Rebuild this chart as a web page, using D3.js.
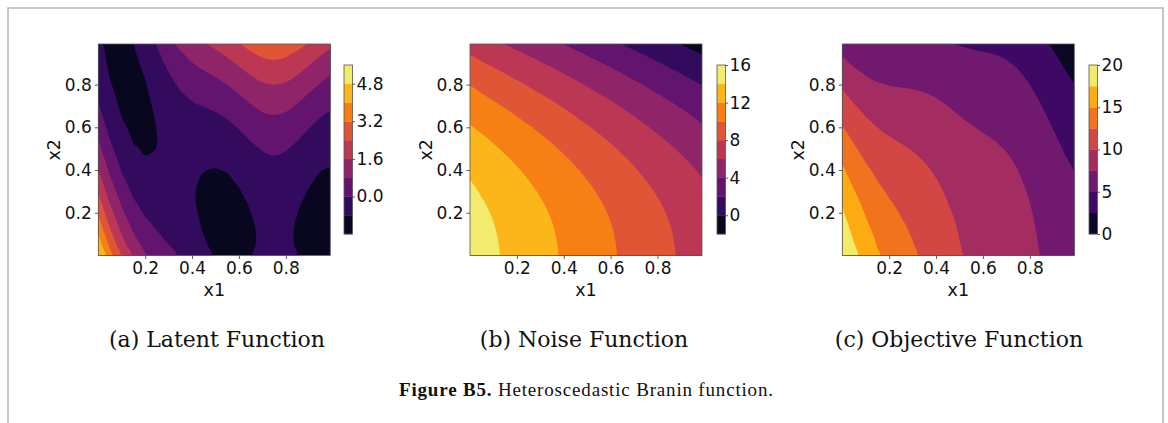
<!DOCTYPE html>
<html>
<head>
<meta charset="utf-8">
<script src="https://cdn.jsdelivr.net/npm/d3@7"></script>
<style>
body { margin: 0; background: #fff; }
svg text { font-family: "DejaVu Sans", sans-serif; fill: #111; }
</style>
</head>
<body>
<script>
// sample positions every 0.05 (same for x1 and x2)
var gridAxis = [0, 0.05, 0.1, 0.15, 0.2, 0.25, 0.3, 0.35, 0.4, 0.45, 0.5,
    0.55, 0.6, 0.65, 0.7, 0.75, 0.8, 0.85, 0.9, 0.95, 1.0];

// rows go from x2 = 0 (bottom) to x2 = 1 (top), columns x1 = 0 .. 1
var latent = [
    [4.88, 3.44, 2.29, 1.45, 0.87, 0.49, 0.20, -0.08, -0.37, -0.64, -0.86, -0.95, -0.93, -0.82, -0.71, -0.65, -0.70, -0.804, -0.91, -0.94, -0.84],
    [4.39, 3.02, 1.93, 1.13, 0.60, 0.26, 0.01, -0.23, -0.49, -0.74, -0.93, -1.01, -0.97, -0.85, -0.73, -0.68, -0.72, -0.83, -0.95, -1.00, -0.92],
    [3.93, 2.61, 1.58, 0.84, 0.35, 0.06, -0.15, -0.36, -0.59, -0.81, -0.98, -1.04, -0.98, -0.86, -0.73, -0.67, -0.72, -0.84, -0.97, -1.03, -0.97],
    [3.48, 2.23, 1.25, 0.56, 0.13, -0.12, -0.30, -0.47, -0.66, -0.86, -1.00, -1.05, -0.98, -0.84, -0.71, -0.65, -0.70, -0.83, -0.97, -1.04, -1.01],
    [3.06, 1.87, 0.95, 0.31, -0.08, -0.29, -0.42, -0.55, -0.72, -0.89, -1.01, -1.03, -0.95, -0.804, -0.67, -0.61, -0.66, -0.796, -0.95, -1.04, -1.02],
    [2.67, 1.53, 0.67, 0.08, -0.26, -0.42, -0.52, -0.62, -0.75, -0.90, -0.99, -1.00, -0.90, -0.75, -0.60, -0.54, -0.60, -0.74, -0.90, -1.01, -1.01],
    [2.29, 1.22, 0.41, -0.13, -0.42, -0.54, -0.60, -0.66, -0.76, -0.88, -0.96, -0.94, -0.83, -0.67, -0.52, -0.46, -0.51, -0.66, -0.83, -0.95, -0.97],
    [1.93, 0.92, 0.17, -0.32, -0.56, -0.64, -0.65, -0.68, -0.75, -0.84, -0.90, -0.87, -0.74, -0.56, -0.41, -0.35, -0.41, -0.56, -0.75, -0.88, -0.92],
    [1.60, 0.65, -0.05, -0.48, -0.68, -0.71, -0.69, -0.68, -0.72, -0.79, -0.82, -0.77, -0.63, -0.44, -0.28, -0.22, -0.28, -0.44, -0.64, -0.79, -0.84],
    [1.29, 0.40, -0.25, -0.63, -0.77, -0.76, -0.70, -0.66, -0.67, -0.71, -0.71, -0.65, -0.49, -0.30, -0.13, -0.06, -0.13, -0.30, -0.50, -0.67, -0.75],
    [1.00, 0.17, -0.42, -0.75, -0.85, -0.795, -0.69, -0.61, -0.59, -0.60, -0.59, -0.50, -0.34, -0.13, 0.04, 0.11, 0.04, -0.13, -0.35, -0.53, -0.63],
    [0.73, -0.04, -0.57, -0.85, -0.90, -0.804, -0.66, -0.55, -0.50, -0.48, -0.44, -0.34, -0.16, 0.06, 0.24, 0.31, 0.24, 0.05, -0.17, -0.37, -0.49],
    [0.48, -0.23, -0.70, -0.93, -0.93, -0.79, -0.61, -0.46, -0.38, -0.34, -0.28, -0.15, 0.04, 0.27, 0.45, 0.52, 0.45, 0.26, 0.02, -0.19, -0.33],
    [0.25, -0.39, -0.81, -0.98, -0.94, -0.76, -0.54, -0.35, -0.24, -0.17, -0.09, 0.05, 0.26, 0.50, 0.69, 0.76, 0.69, 0.49, 0.24, 0.01, -0.14],
    [0.05, -0.54, -0.90, -1.02, -0.93, -0.70, -0.44, -0.22, -0.08, 0.02, 0.12, 0.28, 0.51, 0.75, 0.95, 1.02, 0.95, 0.74, 0.48, 0.24, 0.06],
    [-0.13, -0.66, -0.97, -1.03, -0.89, -0.62, -0.32, -0.07, 0.10, 0.23, 0.35, 0.53, 0.77, 1.03, 1.23, 1.31, 1.23, 1.01, 0.74, 0.49, 0.29],
    [-0.29, -0.76, -1.01, -1.03, -0.84, -0.52, -0.19, 0.10, 0.31, 0.46, 0.61, 0.81, 1.06, 1.33, 1.53, 1.61, 1.53, 1.31, 1.03, 0.75, 0.54],
    [-0.43, -0.84, -1.03, -1.00, -0.76, -0.40, -0.03, 0.30, 0.54, 0.71, 0.88, 1.10, 1.37, 1.64, 1.86, 1.94, 1.85, 1.63, 1.33, 1.04, 0.81],
    [-0.55, -0.90, -1.03, -0.94, -0.66, -0.26, 0.16, 0.51, 0.78, 0.99, 1.18, 1.42, 1.70, 1.98, 2.20, 2.28, 2.19, 1.96, 1.66, 1.36, 1.10],
    [-0.64, -0.93, -1.01, -0.87, -0.54, -0.10, 0.36, 0.75, 1.05, 1.28, 1.50, 1.75, 2.05, 2.35, 2.57, 2.65, 2.56, 2.32, 2.01, 1.69, 1.42],
    [-0.72, -0.94, -0.97, -0.78, -0.40, 0.09, 0.59, 1.01, 1.34, 1.60, 1.84, 2.11, 2.42, 2.73, 2.96, 3.04, 2.95, 2.70, 2.38, 2.04, 1.75]
];

var noise = [
    [15.00, 14.60, 14.20, 13.80, 13.40, 13.00, 12.60, 12.20, 11.80, 11.40, 11.00, 10.60, 10.20, 9.80, 9.40, 9.00, 8.60, 8.20, 7.80, 7.40, 7.00],
    [14.98, 14.58, 14.18, 13.78, 13.38, 12.98, 12.58, 12.18, 11.78, 11.38, 10.98, 10.58, 10.18, 9.78, 9.38, 8.98, 8.58, 8.18, 7.78, 7.38, 6.98],
    [14.92, 14.52, 14.12, 13.72, 13.32, 12.92, 12.52, 12.12, 11.72, 11.32, 10.92, 10.52, 10.12, 9.72, 9.32, 8.92, 8.52, 8.12, 7.72, 7.32, 6.92],
    [14.82, 14.42, 14.02, 13.62, 13.22, 12.82, 12.42, 12.02, 11.62, 11.22, 10.82, 10.42, 10.02, 9.62, 9.22, 8.82, 8.42, 8.02, 7.62, 7.22, 6.82],
    [14.68, 14.28, 13.88, 13.48, 13.08, 12.68, 12.28, 11.88, 11.48, 11.08, 10.68, 10.28, 9.88, 9.48, 9.08, 8.68, 8.28, 7.88, 7.48, 7.08, 6.68],
    [14.50, 14.10, 13.70, 13.30, 12.90, 12.50, 12.10, 11.70, 11.30, 10.90, 10.50, 10.10, 9.70, 9.30, 8.90, 8.50, 8.10, 7.70, 7.30, 6.90, 6.50],
    [14.28, 13.88, 13.48, 13.08, 12.68, 12.28, 11.88, 11.48, 11.08, 10.68, 10.28, 9.88, 9.48, 9.08, 8.68, 8.28, 7.88, 7.48, 7.08, 6.68, 6.28],
    [14.02, 13.62, 13.22, 12.82, 12.42, 12.02, 11.62, 11.22, 10.82, 10.42, 10.02, 9.62, 9.22, 8.82, 8.42, 8.02, 7.62, 7.22, 6.82, 6.42, 6.02],
    [13.72, 13.32, 12.92, 12.52, 12.12, 11.72, 11.32, 10.92, 10.52, 10.12, 9.72, 9.32, 8.92, 8.52, 8.12, 7.72, 7.32, 6.92, 6.52, 6.12, 5.72],
    [13.38, 12.98, 12.58, 12.18, 11.78, 11.38, 10.98, 10.58, 10.18, 9.78, 9.38, 8.98, 8.58, 8.18, 7.78, 7.38, 6.98, 6.58, 6.18, 5.78, 5.38],
    [13.00, 12.60, 12.20, 11.80, 11.40, 11.00, 10.60, 10.20, 9.80, 9.40, 9.00, 8.60, 8.20, 7.80, 7.40, 7.00, 6.60, 6.20, 5.80, 5.40, 5.00],
    [12.58, 12.18, 11.78, 11.38, 10.98, 10.58, 10.18, 9.78, 9.38, 8.98, 8.58, 8.18, 7.78, 7.38, 6.98, 6.58, 6.18, 5.78, 5.38, 4.98, 4.58],
    [12.12, 11.72, 11.32, 10.92, 10.52, 10.12, 9.72, 9.32, 8.92, 8.52, 8.12, 7.72, 7.32, 6.92, 6.52, 6.12, 5.72, 5.32, 4.92, 4.52, 4.12],
    [11.62, 11.22, 10.82, 10.42, 10.02, 9.62, 9.22, 8.82, 8.42, 8.02, 7.62, 7.22, 6.82, 6.42, 6.02, 5.62, 5.22, 4.82, 4.42, 4.02, 3.62],
    [11.08, 10.68, 10.28, 9.88, 9.48, 9.08, 8.68, 8.28, 7.88, 7.48, 7.08, 6.68, 6.28, 5.88, 5.48, 5.08, 4.68, 4.28, 3.88, 3.48, 3.08],
    [10.50, 10.10, 9.70, 9.30, 8.90, 8.50, 8.10, 7.70, 7.30, 6.90, 6.50, 6.10, 5.70, 5.30, 4.90, 4.50, 4.10, 3.70, 3.30, 2.90, 2.50],
    [9.88, 9.48, 9.08, 8.68, 8.28, 7.88, 7.48, 7.08, 6.68, 6.28, 5.88, 5.48, 5.08, 4.68, 4.28, 3.88, 3.48, 3.08, 2.68, 2.28, 1.88],
    [9.22, 8.82, 8.42, 8.02, 7.62, 7.22, 6.82, 6.42, 6.02, 5.62, 5.22, 4.82, 4.42, 4.02, 3.62, 3.22, 2.82, 2.42, 2.02, 1.62, 1.22],
    [8.52, 8.12, 7.72, 7.32, 6.92, 6.52, 6.12, 5.72, 5.32, 4.92, 4.52, 4.12, 3.72, 3.32, 2.92, 2.52, 2.12, 1.72, 1.32, 0.92, 0.52],
    [7.78, 7.38, 6.98, 6.58, 6.18, 5.78, 5.38, 4.98, 4.58, 4.18, 3.78, 3.38, 2.98, 2.58, 2.18, 1.78, 1.38, 0.98, 0.58, 0.18, -0.22],
    [7.00, 6.60, 6.20, 5.80, 5.40, 5.00, 4.60, 4.20, 3.80, 3.40, 3.00, 2.60, 2.20, 1.80, 1.40, 1.00, 0.60, 0.20, -0.20, -0.60, -1.00]
];

var objective = [
    [19.88, 18.04, 16.49, 15.25, 14.27, 13.49, 12.80, 12.12, 11.43, 10.76, 10.14, 9.65, 9.27, 8.98, 8.69, 8.35, 7.90, 7.40, 6.89, 6.46, 6.16],
    [19.37, 17.60, 16.11, 14.91, 13.98, 13.24, 12.59, 11.95, 11.29, 10.64, 10.05, 9.57, 9.21, 8.93, 8.65, 8.30, 7.86, 7.35, 6.83, 6.38, 6.06],
    [18.85, 17.13, 15.70, 14.56, 13.67, 12.98, 12.37, 11.76, 11.13, 10.51, 9.94, 9.48, 9.14, 8.86, 8.59, 8.25, 7.80, 7.28, 6.75, 6.29, 5.95],
    [18.30, 16.65, 15.27, 14.18, 13.35, 12.70, 12.12, 11.55, 10.96, 10.36, 9.82, 9.37, 9.04, 8.78, 8.51, 8.17, 7.72, 7.19, 6.65, 6.18, 5.81],
    [17.74, 16.15, 14.83, 13.79, 13.00, 12.39, 11.86, 11.33, 10.76, 10.19, 9.67, 9.25, 8.93, 8.68, 8.41, 8.07, 7.62, 7.08, 6.53, 6.04, 5.66],
    [17.17, 15.63, 14.37, 13.38, 12.64, 12.08, 11.58, 11.08, 10.55, 10.00, 9.51, 9.10, 8.80, 8.55, 8.30, 7.96, 7.50, 6.96, 6.40, 5.89, 5.49],
    [16.57, 15.10, 13.89, 12.95, 12.26, 11.74, 11.28, 10.82, 10.32, 9.80, 9.32, 8.94, 8.65, 8.41, 8.16, 7.82, 7.37, 6.82, 6.25, 5.73, 5.31],
    [15.95, 14.54, 13.39, 12.50, 11.86, 11.38, 10.97, 10.54, 10.07, 9.58, 9.12, 8.75, 8.48, 8.26, 8.01, 7.67, 7.21, 6.66, 6.07, 5.54, 5.10],
    [15.32, 13.97, 12.87, 12.04, 11.44, 11.01, 10.63, 10.24, 9.80, 9.33, 8.90, 8.55, 8.29, 8.08, 7.84, 7.50, 7.04, 6.48, 5.88, 5.33, 4.88],
    [14.67, 13.38, 12.33, 11.55, 11.01, 10.62, 10.28, 9.92, 9.51, 9.07, 8.67, 8.33, 8.09, 7.88, 7.65, 7.32, 6.85, 6.28, 5.68, 5.11, 4.63],
    [14.00, 12.77, 11.78, 11.05, 10.55, 10.20, 9.91, 9.59, 9.21, 8.80, 8.41, 8.10, 7.86, 7.67, 7.44, 7.11, 6.64, 6.07, 5.45, 4.87, 4.37],
    [13.31, 12.14, 11.21, 10.53, 10.08, 9.78, 9.52, 9.23, 8.88, 8.50, 8.14, 7.84, 7.62, 7.44, 7.22, 6.89, 6.42, 5.83, 5.21, 4.61, 4.09],
    [12.60, 11.49, 10.62, 9.99, 9.59, 9.33, 9.11, 8.86, 8.54, 8.18, 7.84, 7.57, 7.36, 7.19, 6.97, 6.64, 6.17, 5.58, 4.94, 4.33, 3.79],
    [11.87, 10.83, 10.01, 9.44, 9.08, 8.86, 8.68, 8.47, 8.18, 7.85, 7.53, 7.27, 7.08, 6.92, 6.71, 6.38, 5.91, 5.31, 4.66, 4.03, 3.48],
    [11.13, 10.14, 9.38, 8.86, 8.55, 8.38, 8.24, 8.06, 7.80, 7.50, 7.20, 6.96, 6.79, 6.63, 6.43, 6.10, 5.63, 5.02, 4.36, 3.72, 3.14],
    [10.37, 9.44, 8.73, 8.27, 8.01, 7.88, 7.78, 7.63, 7.40, 7.13, 6.85, 6.63, 6.47, 6.33, 6.13, 5.81, 5.33, 4.71, 4.04, 3.39, 2.79],
    [9.59, 8.72, 8.07, 7.65, 7.44, 7.36, 7.29, 7.18, 6.99, 6.74, 6.49, 6.29, 6.14, 6.01, 5.81, 5.49, 5.01, 4.39, 3.71, 3.03, 2.42],
    [8.79, 7.98, 7.39, 7.02, 6.86, 6.82, 6.79, 6.72, 6.56, 6.33, 6.10, 5.92, 5.79, 5.66, 5.48, 5.16, 4.67, 4.05, 3.35, 2.66, 2.03],
    [7.97, 7.22, 6.69, 6.38, 6.26, 6.26, 6.28, 6.23, 6.10, 5.91, 5.70, 5.54, 5.42, 5.30, 5.12, 4.80, 4.31, 3.68, 2.98, 2.28, 1.62],
    [7.14, 6.45, 5.97, 5.71, 5.64, 5.68, 5.74, 5.73, 5.63, 5.46, 5.28, 5.13, 5.03, 4.93, 4.75, 4.43, 3.94, 3.30, 2.59, 1.87, 1.20],
    [6.28, 5.66, 5.23, 5.02, 5.00, 5.09, 5.19, 5.21, 5.14, 5.00, 4.84, 4.71, 4.62, 4.53, 4.36, 4.04, 3.55, 2.90, 2.18, 1.44, 0.75]
];

var latentLevels = [-1.6, -0.8, 0.0, 0.8, 1.6, 2.4, 3.2, 4.0, 4.8, 5.6];
var noiseLevels = [-2, 0, 2, 4, 6, 8, 10, 12, 14, 16];
var objectiveLevels = [0, 2.5, 5, 7.5, 10, 12.5, 15, 17.5, 20];

var latentTicks = [0, 1.6, 3.2, 4.8];
var noiseTicks = [0, 4, 8, 12, 16];
var objectiveTicks = [0, 5, 10, 15, 20];

var axisTicks = [0.2, 0.4, 0.6, 0.8];
var captions = ["(a) Latent Function", "(b) Noise Function", "(c) Objective Function"];
var figureLabel = "Figure B5.";
var figureText = " Heteroscedastic Branin function.";

var width = 1168, height = 423;
var plotTop = 44, plotBottom = 255.5, plotW = 232;
var cbTop = 65, cbBottom = 234, cbW = 8.5;

var svg = d3.select("body")
    .append("svg")
    .attr("width", width)
    .attr("height", height);

// page frame
svg.append("path")
    .attr("d", "M8," + height + "V8H1163V" + height)
    .attr("fill", "none")
    .attr("stroke", "#b8b8b8")
    .attr("stroke-width", 1.6);

var panels = [
    { grid: latent, levels: latentLevels, ticks: latentTicks, fmt: d3.format(".1f"), left: 98.3, cbX: 344, capX: 217 },
    { grid: noise, levels: noiseLevels, ticks: noiseTicks, fmt: d3.format("d"), left: 470, cbX: 717, capX: 584 },
    { grid: objective, levels: objectiveLevels, ticks: objectiveTicks, fmt: d3.format("d"), left: 842.3, cbX: 1089, capX: 959 }
];

var smoothLine = d3.line().curve(d3.curveCatmullRomClosed.alpha(0.5));

panels.forEach(function (p, idx) {
    var g = svg.append("g");

    var xscale = d3.scaleLinear().domain([0, 0.99]).range([p.left, p.left + plotW]);
    var yscale = d3.scaleLinear().domain([0, 0.99]).range([plotBottom, plotTop]);

    var nb = p.levels.length - 1;
    var bandColor = function (k) { return d3.interpolateInferno((k + 0.5) / nb); };

    var clipId = "clip" + idx;
    g.append("clipPath").attr("id", clipId)
        .append("rect")
        .attr("x", p.left).attr("y", plotTop)
        .attr("width", plotW).attr("height", plotBottom - plotTop);

    var n = gridAxis.length;
    var values = [];
    p.grid.forEach(function (row) { row.forEach(function (v) { values.push(v); }); });

    var contours = d3.contours()
        .size([n, n])
        .thresholds(p.levels.slice(1, -1))(values);

    // grid coords -> pixels (sample i sits at i + 0.5)
    var step = gridAxis[1] - gridAxis[0];
    var toPx = function (pt) {
        return [xscale(gridAxis[0] + (pt[0] - 0.5) * step), yscale(gridAxis[0] + (pt[1] - 0.5) * step)];
    };
    var ringPath = function (geom) {
        var s = "";
        geom.coordinates.forEach(function (poly) {
            poly.forEach(function (ring) {
                var pts = ring.slice(0, -1).map(toPx);
                if (pts.length > 2) s += smoothLine(pts);
            });
        });
        return s;
    };

    var fills = g.append("g").attr("clip-path", "url(#" + clipId + ")");
    fills.append("rect")
        .attr("x", p.left).attr("y", plotTop)
        .attr("width", plotW).attr("height", plotBottom - plotTop)
        .attr("fill", bandColor(0));
    fills.selectAll("path.band")
        .data(contours)
        .enter().append("path")
        .attr("class", "band")
        .attr("d", ringPath)
        .attr("fill-rule", "evenodd")
        .attr("fill", function (d, i) { return bandColor(i + 1); });

    // frame
    g.append("rect")
        .attr("x", p.left).attr("y", plotTop)
        .attr("width", plotW).attr("height", plotBottom - plotTop)
        .attr("fill", "none").attr("stroke", "#555").attr("stroke-width", 0.8);

    var xAxis = d3.axisBottom(xscale).tickValues(axisTicks).tickSize(3.5).tickPadding(3).tickFormat(d3.format(".1f"));
    var yAxis = d3.axisLeft(yscale).tickValues(axisTicks).tickSize(3.5).tickPadding(3).tickFormat(d3.format(".1f"));

    var gx = g.append("g").attr("transform", "translate(0," + plotBottom + ")").call(xAxis);
    var gy = g.append("g").attr("transform", "translate(" + p.left + ",0)").call(yAxis);
    [gx, gy].forEach(function (a) {
        a.select(".domain").remove();
        a.selectAll("line").attr("stroke", "#333").attr("stroke-width", 0.8);
        a.selectAll("text").style("font-size", "17px").attr("fill", "#111");
    });

    g.append("text")
        .attr("x", p.left + plotW / 2)
        .attr("y", 295.5)
        .attr("text-anchor", "middle")
        .style("font-size", "17.5px")
        .text("x1");

    g.append("text")
        .attr("transform", "translate(" + (p.left - 38) + "," + ((plotTop + plotBottom) / 2) + ") rotate(-90)")
        .attr("text-anchor", "middle")
        .style("font-size", "17.5px")
        .text("x2");

    // colorbar
    var cscale = d3.scaleLinear()
        .domain([p.levels[0], p.levels[nb]])
        .range([cbBottom, cbTop]);

    g.selectAll("rect.cb")
        .data(d3.range(nb))
        .enter().append("rect")
        .attr("class", "cb")
        .attr("x", p.cbX)
        .attr("y", function (k) { return cscale(p.levels[k + 1]); })
        .attr("width", cbW)
        .attr("height", function (k) { return cscale(p.levels[k]) - cscale(p.levels[k + 1]) + 0.3; })
        .attr("fill", function (k) { return bandColor(k); });

    g.append("rect")
        .attr("x", p.cbX).attr("y", cbTop)
        .attr("width", cbW).attr("height", cbBottom - cbTop)
        .attr("fill", "none").attr("stroke", "#555").attr("stroke-width", 0.8);

    var cAxis = d3.axisRight(cscale).tickValues(p.ticks).tickSize(2.5).tickPadding(1.5).tickFormat(p.fmt);
    var gc = g.append("g").attr("transform", "translate(" + (p.cbX + cbW) + ",0)").call(cAxis);
    gc.select(".domain").remove();
    gc.selectAll("line").attr("stroke", "#333").attr("stroke-width", 0.8);
    gc.selectAll("text").style("font-size", "17px").attr("fill", "#111");

    // sub-caption
    svg.append("text")
        .attr("x", p.capX)
        .attr("y", 347)
        .attr("text-anchor", "middle")
        .style("font-family", "'DejaVu Serif', serif")
        .style("font-size", "22px")
        .text(captions[idx]);
});

var cap = svg.append("text")
    .attr("x", 586)
    .attr("y", 396)
    .attr("text-anchor", "middle")
    .attr("textLength", 374)
    .attr("lengthAdjust", "spacing")
    .style("font-family", "'Liberation Serif', serif")
    .style("font-size", "19px");
cap.append("tspan").style("font-weight", "bold").text(figureLabel);
cap.append("tspan").text(figureText);
</script>
</body>
</html>
